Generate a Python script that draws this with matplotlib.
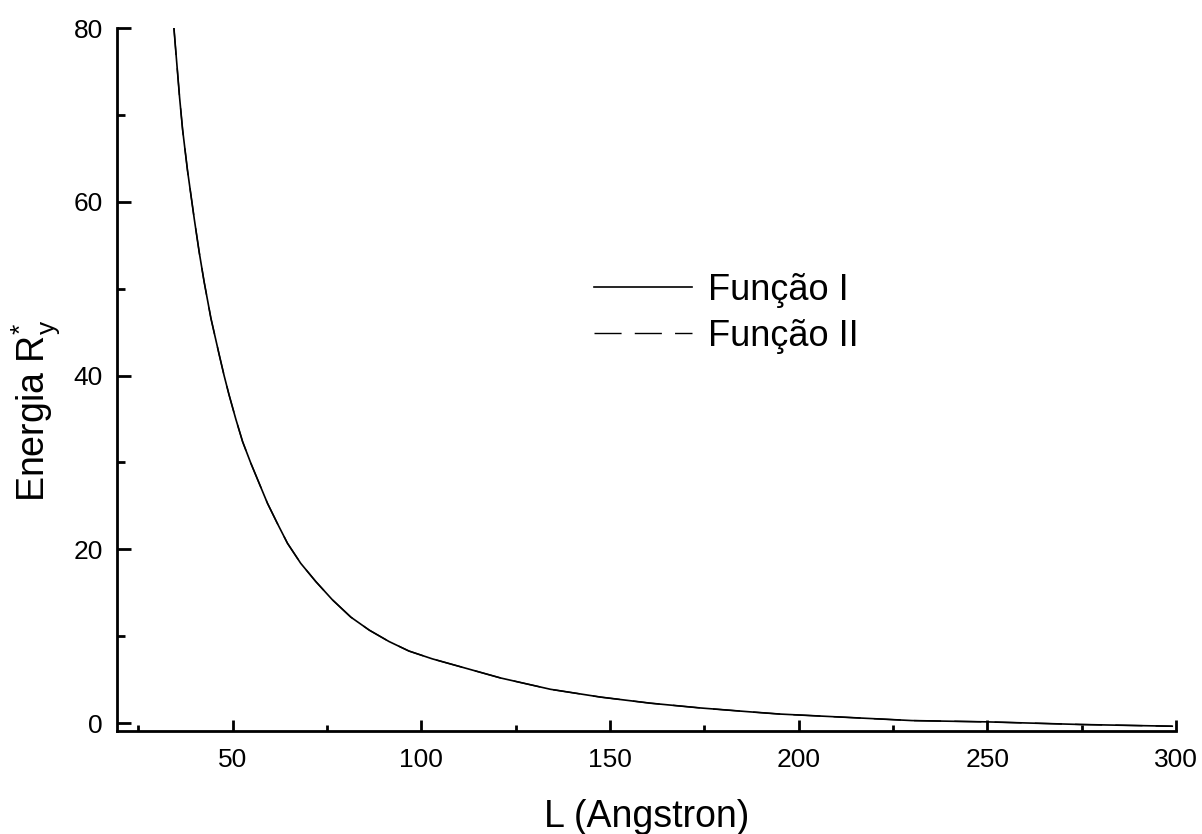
import matplotlib.pyplot as plt
from matplotlib.ticker import MultipleLocator

plt.rcParams['font.family'] = ['Liberation Sans', 'DejaVu Sans']
plt.rcParams['mathtext.fontset'] = 'custom'
plt.rcParams['mathtext.rm'] = 'Liberation Sans'
plt.rcParams['mathtext.it'] = 'Liberation Sans'
plt.rcParams['mathtext.default'] = 'regular'

# energy vs well width, both trial functions
L_vals = [34.4, 34.9, 35.3, 35.9, 36.7, 38.0, 38.9, 39.8, 41.1, 42.4, 44.2,
          46.4, 47.7, 49.0, 50.8, 52.6, 54.8, 57.0, 59.2, 61.8, 64.5, 68.0,
          72.0, 76.4, 81.3, 86.2, 91.4, 96.7, 102.9, 121, 134.2, 147.5, 160.7,
          174, 187.2, 195, 230, 250, 274.6, 299]
E_func1 = [80, 77.3, 75.2, 72.0, 68.3, 63.6, 60.8, 58.0, 54.2, 50.8, 46.6,
           42.4, 40.0, 37.8, 35.0, 32.4, 29.9, 27.6, 25.3, 23.0, 20.7, 18.4,
           16.3, 14.2, 12.2, 10.7, 9.4, 8.3, 7.4, 5.2, 3.9, 3.0, 2.3,
           1.75, 1.3, 1.05, 0.3, 0.15, -0.15, -0.35]
E_func2 = [80, 77.3, 75.2, 72.0, 68.3, 63.6, 60.8, 58.0, 54.2, 50.8, 46.6,
           42.4, 40.0, 37.8, 35.0, 32.4, 29.9, 27.6, 25.3, 23.0, 20.7, 18.4,
           16.3, 14.2, 12.2, 10.7, 9.4, 8.3, 7.4, 5.2, 3.9, 3.0, 2.3,
           1.75, 1.3, 1.05, 0.3, 0.15, -0.15, -0.35]

fig = plt.figure(figsize=(12.02, 8.34), dpi=100)
ax = fig.add_axes([0.0973, 0.1235, 0.8811, 0.8429])

ax.plot(L_vals, E_func1, color='black', lw=1.2, label='Função I')
ax.plot(L_vals, E_func2, color='black', lw=1.0, dashes=(19.5, 9.5), label='Função II')

ax.set_xlim(19.3, 300)
ax.set_ylim(-0.9, 80)

for s in ['top', 'right']:
    ax.spines[s].set_visible(False)
for s in ['left', 'bottom']:
    ax.spines[s].set_linewidth(2.0)

ax.xaxis.set_major_locator(MultipleLocator(50))
ax.xaxis.set_minor_locator(MultipleLocator(25))
ax.yaxis.set_major_locator(MultipleLocator(20))
ax.yaxis.set_minor_locator(MultipleLocator(10))
ax.tick_params(axis='x', which='major', direction='in', length=8, width=2, pad=12, labelsize=19)
ax.tick_params(axis='x', which='minor', direction='in', length=4.5, width=2)
ax.tick_params(axis='y', which='major', direction='in', length=10, width=2, pad=10, labelsize=19)
ax.tick_params(axis='y', which='minor', direction='in', length=6, width=2)

ax.set_xlabel('L (Angstron)', fontsize=27, labelpad=20)
ax.set_ylabel('Energia R$^{*}_{y}$', fontsize=27)
ax.yaxis.set_label_coords(-0.052, 0.455)

ax.legend(loc='upper left', bbox_to_anchor=(0.437, 0.672), frameon=False,
          fontsize=26, handlelength=2.7, handletextpad=0.45, labelspacing=0.3,
          borderaxespad=0)

fig.savefig('out.png', dpi=100)
